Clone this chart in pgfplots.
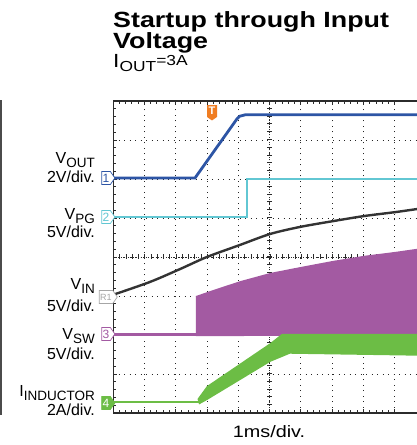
\documentclass[border=0pt]{standalone}
\usepackage{pgfplots}
\pgfplotsset{compat=1.18}
\usepackage{fontspec}
\setmainfont{Liberation Sans}
\usetikzlibrary{shapes.symbols}
\definecolor{cvout}{HTML}{2D55A5}
\definecolor{cvpg}{HTML}{62C7D3}
\definecolor{cvin}{HTML}{333333}
\definecolor{cvsw}{HTML}{A35AA2}
\definecolor{cil}{HTML}{6CBD45}
\definecolor{ctrig}{HTML}{F07D22}
\definecolor{cframe}{HTML}{2B2B2B}
\newcommand{\lab}[2]{{\fontsize{16}{16}\selectfont #1\raisebox{-3.5pt}{\fontsize{13.5}{13.5}\selectfont #2}}}
\begin{document}
\begin{tikzpicture}[x=1pt,y=1pt]
\path[use as bounding box] (0,0) rectangle (417,445);
\begin{axis}[at={(113pt,32pt)}, anchor=south west, width=304pt, height=312pt, scale only axis,
  xmin=0, xmax=9.712, ymin=0, ymax=8,
  xtick={0,...,9}, ytick={0,...,8}, minor x tick num=4, minor y tick num=4,
  xticklabels={}, yticklabels={},
  tick align=inside, major tick length=4pt, minor tick length=3pt,
  ytick pos=left,
  tick style={cframe, line width=0.8pt},
  grid=major, major grid style={black!85, line width=0.8pt, dash pattern=on 1pt off 4.5pt},
  axis line style={draw=none},
]
% center lines
\draw[cframe, line width=0.8pt, dash pattern=on 1pt off 1.5pt] (axis cs:5,0) -- (axis cs:5,8);
\draw[cframe, line width=5pt, dash pattern=on 1pt off 6.8pt] (axis cs:5,0) -- (axis cs:5,8);
\draw[cframe, line width=0.8pt, dash pattern=on 1pt off 1.5pt] (axis cs:0,4) -- (axis cs:9.712,4);
\draw[cframe, line width=5pt, dash pattern=on 1pt off 5.26pt] (axis cs:0,4) -- (axis cs:9.712,4);
% V_IN
\addplot[cvin, line width=2.4pt, smooth] coordinates {
 (0,3.03) (1.18,3.36) (2.14,3.69) (3.0,4.0) (4.06,4.31) (5.02,4.59) (5.97,4.77) (7.03,4.92) (8.02,5.05) (9.01,5.15) (9.712,5.23)};
% V_SW
\addplot[cvsw, line width=2.4pt] coordinates {(0,2.01) (2.65,2.01)};
\addplot[fill=cvsw, draw=none] coordinates {
 (2.65,1.97) (2.65,3.0) (3.19,3.15) (4.06,3.38) (5.02,3.59) (5.97,3.74) (7.03,3.9) (8.02,4.03) (9.01,4.13) (9.712,4.21) (9.712,1.99)} -- cycle;
% I_INDUCTOR
\addplot[cil, line width=2.8pt] coordinates {(0,0.28) (2.8,0.28)};
\addplot[fill=cil, draw=none] coordinates {
 (2.7,0.36) (3.0,0.69) (5.02,1.79) (5.4,2.03) (9.712,2.03) (9.712,1.47) (5.65,1.52) (5.02,1.31) (3.0,0.33) (2.75,0.22)} -- cycle;
% V_PG
\addplot[cvpg, line width=2.4pt] coordinates {(0,5.03) (4.28,5.03) (4.28,6.0) (9.712,6.0)};
% V_OUT
\addplot[cvout, line width=2.8pt] coordinates {
 (0,6.026) (2.62,6.026) (3.96,7.54) (4.05,7.61) (4.22,7.645) (9.712,7.645)};
% frame
\draw[cframe, line width=2pt] (axis cs:9.712,8) -- (axis cs:0,8) -- (axis cs:0,0) -- (axis cs:9.712,0);
\end{axis}
% left rule
\draw[cframe!85, line width=1.5pt] (1,30) -- (1,345);
% title
\node[anchor=base west, inner sep=0pt] at (113,417) {\scalebox{1.22}[1]{\bfseries\fontsize{22}{22}\selectfont Startup through Input}};
\node[anchor=base west, inner sep=0pt] at (113,396) {\scalebox{1.22}[1]{\bfseries\fontsize{22}{22}\selectfont Voltage}};
\node[anchor=base west, inner sep=0pt] at (113,377) {\scalebox{1.2}[1]{{\fontsize{19}{19}\selectfont I}\raisebox{-4pt}{\fontsize{14.5}{14.5}\selectfont OUT}\raisebox{2pt}{\fontsize{14.5}{14.5}\selectfont =3A}}};
% channel labels
\node[anchor=base east, inner sep=0pt] at (95,281) {\lab{V}{OUT}};
\node[anchor=base east, inner sep=0pt, font=\fontsize{16}{16}\selectfont] at (95,262) {2V/div.};
\node[anchor=base east, inner sep=0pt] at (95,225) {\lab{V}{PG}};
\node[anchor=base east, inner sep=0pt, font=\fontsize{16}{16}\selectfont] at (95,207) {5V/div.};
\node[anchor=base east, inner sep=0pt] at (95,155) {\lab{V}{IN}};
\node[anchor=base east, inner sep=0pt, font=\fontsize{16}{16}\selectfont] at (95,133) {5V/div.};
\node[anchor=base east, inner sep=0pt] at (95,105) {\lab{V}{SW}};
\node[anchor=base east, inner sep=0pt, font=\fontsize{16}{16}\selectfont] at (95,85) {5V/div.};
\node[anchor=base east, inner sep=0pt] at (95,48) {\lab{I}{INDUCTOR}};
\node[anchor=base east, inner sep=0pt, font=\fontsize{16}{16}\selectfont] at (95,29) {2A/div.};
\node[anchor=base, inner sep=0pt] at (269,7) {\scalebox{1.2}[1]{\fontsize{16.5}{16.5}\selectfont 1ms/div.}};
% channel markers
\tikzset{mk/.style={signal, signal to=east, signal pointer angle=110, inner sep=1pt, minimum height=13pt, minimum width=12pt, line width=0.7pt, font=\fontsize{12}{12}\selectfont}}
\node[mk, draw=cvout, fill=white, text=cvout] at (106,267) {1};
\node[mk, draw=cvpg, fill=white, text=cvpg] at (106,228) {2};
\node[mk, draw=gray!70, fill=white, text=gray!70, font=\fontsize{9}{9}\selectfont] at (106,148) {R1};
\node[mk, draw=cvsw, fill=white, text=cvsw] at (106,111) {3};
\node[mk, draw=cil, fill=cil, text=white] at (106,42) {4};
\node[signal, signal to=south, signal pointer angle=110, fill=ctrig, text=white, inner sep=1pt, minimum width=10pt, minimum height=15pt, font=\bfseries\fontsize{11}{11}\selectfont] at (212,334) {T};
\end{tikzpicture}
\end{document}
